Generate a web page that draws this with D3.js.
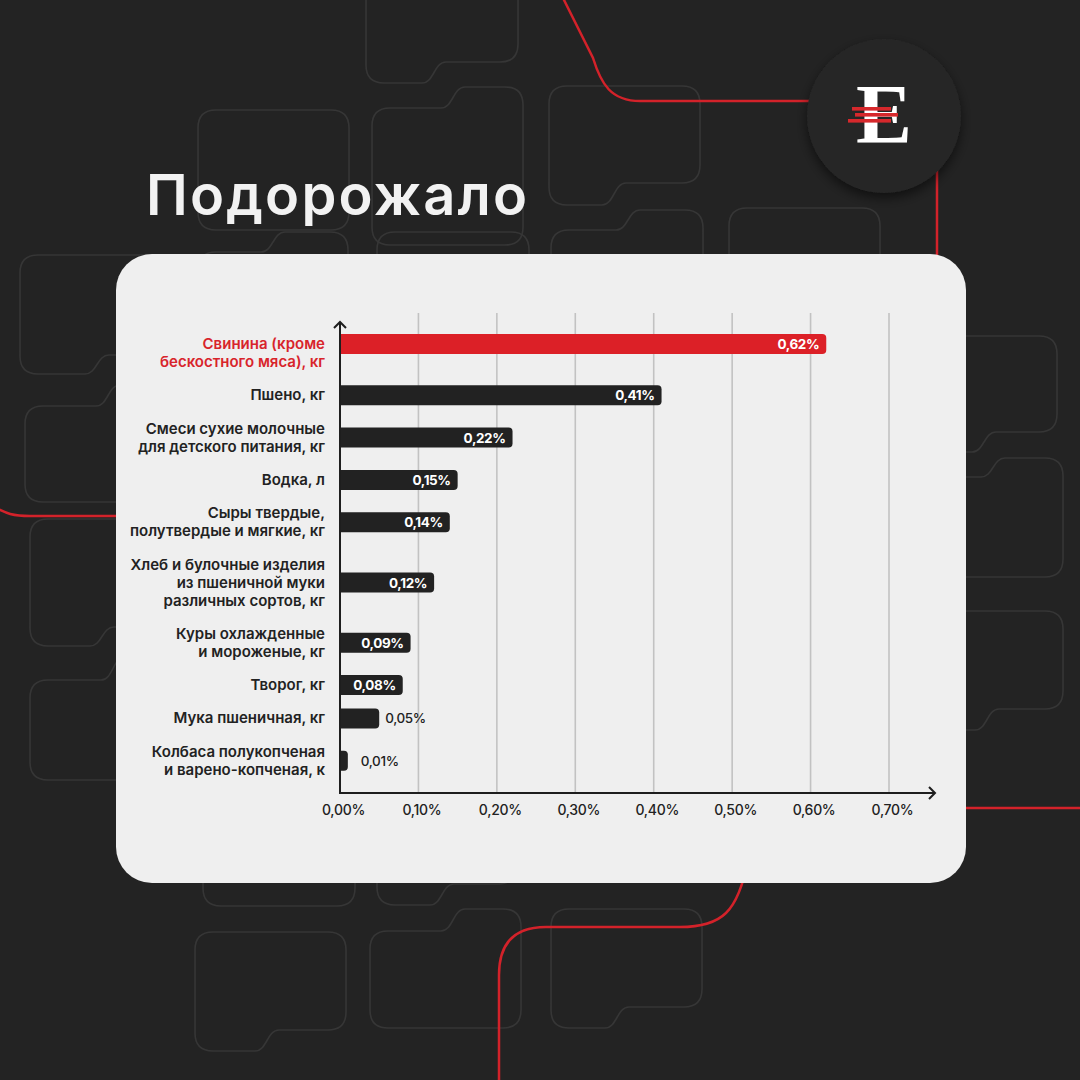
<!DOCTYPE html>
<html>
<head>
<meta charset="utf-8">
<script src="https://cdn.jsdelivr.net/npm/d3@7"></script>
<style>
    html, body { margin: 0; padding: 0; background: #232323; }
    svg { display: block; }
</style>
</head>
<body>
<script>
(function(){

    //chart data
    var categories = [
        "Свинина (кроме\nбескостного мяса), кг",
        "Пшено, кг",
        "Смеси сухие молочные\nдля детского питания, кг",
        "Водка, л",
        "Сыры твердые,\nполутвердые и мягкие, кг",
        "Хлеб и булочные изделия\nиз пшеничной муки\nразличных сортов, кг",
        "Куры охлажденные\nи мороженые, кг",
        "Творог, кг",
        "Мука пшеничная, кг",
        "Колбаса полукопченая\nи варено-копченая, к"
    ];
    var values = [0.62, 0.41, 0.22, 0.15, 0.14, 0.12, 0.09, 0.08, 0.05, 0.01]; //percent
    var tickValues = [0, 0.1, 0.2, 0.3, 0.4, 0.5, 0.6, 0.7];
    var highlight = 0; //index of red bar
    var title = "Подорожало";

window.onload = draw;

function draw(){
    var width = 1080,
        height = 1080;

    var svg = d3.select("body")
        .append("svg")
        .attr("width", width)
        .attr("height", height);

    var defs = svg.append("defs");
    var shadow = defs.append("filter")
        .attr("id", "shadow")
        .attr("x", "-30%").attr("y", "-30%")
        .attr("width", "160%").attr("height", "160%");
    shadow.append("feDropShadow")
        .attr("dx", 0).attr("dy", 5)
        .attr("stdDeviation", 6)
        .attr("flood-color", "#000")
        .attr("flood-opacity", 0.55);

    //background
    svg.append("rect")
        .attr("width", width)
        .attr("height", height)
        .attr("fill", "#232323");

    drawBackdrop(svg);

    //title
    svg.append("text")
        .attr("x", 146)
        .attr("y", 215)
        .attr("fill", "#f2f2f2")
        .style("font-family", "Inter, 'Noto Sans', sans-serif")
        .style("font-weight", 600)
        .style("font-size", "56px")
        .style("letter-spacing", "2.2px")
        .text(title);

    //logo
    var logo = svg.append("g");
    logo.append("circle")
        .attr("cx", 884).attr("cy", 116).attr("r", 77)
        .attr("fill", "#262626")
        .attr("filter", "url(#shadow)");
    logo.append("text")
        .attr("x", 884).attr("y", 143)
        .attr("text-anchor", "middle")
        .attr("fill", "#ffffff")
        .style("font-family", "'Liberation Serif', serif")
        .style("font-weight", 700)
        .style("font-size", "84px")
        .text("E");
    [[852, 107, 39], [855, 113, 43], [848, 119, 43]].forEach(function(s){
        logo.append("rect")
            .attr("x", s[0]).attr("y", s[1])
            .attr("width", s[2]).attr("height", 3.6)
            .attr("fill", "#d6282c");
    });

    //card
    svg.append("rect")
        .attr("x", 116).attr("y", 254)
        .attr("width", 850).attr("height", 629)
        .attr("rx", 36)
        .attr("fill", "#efefef");

    setChart(svg);
};

//decorative outlines and red lines behind the card
function drawBackdrop(svg){
    //[x0, y0, x1, y1, kind, xt, tabDepth]
    var shapes = [
        [366, -30, 518, 62, "bl", 432, 21],
        [198, 110, 349, 230, "r"],
        [372, 108, 523, 245, "tr", 455, 21],
        [549, 86, 700, 183, "bl", 612, 22],
        [551, 230, 703, 330, "tr", 630, 20],
        [729, 208, 880, 330, "r"],
        [198, 252, 348, 360, "tr", 275, 20],
        [377, 232, 529, 340, "r"],
        [20, 255, 170, 355, "bl", 95, 19],
        [25, 406, 175, 502, "tr", 110, 21],
        [30, 519, 180, 627, "bl", 100, 19],
        [30, 680, 180, 780, "tr", 115, 23],
        [905, 336, 1057, 432, "bl", 982, 20],
        [905, 477, 1063, 577, "tr", 995, 19],
        [905, 611, 1063, 709, "bl", 985, 21],
        [203, 790, 355, 906, "r"],
        [377, 790, 516, 884, "bl", 440, 21],
        [195, 932, 346, 1030, "bl", 265, 21],
        [370, 931, 521, 1028, "tr", 455, 22],
        [551, 909, 702, 1007, "bl", 615, 21]
    ];

    svg.append("g")
        .selectAll("path")
        .data(shapes)
        .enter()
        .append("path")
        .attr("d", shapePath)
        .attr("fill", "none")
        .attr("stroke", "#363636")
        .attr("stroke-width", 1.6);

    var red = [
        "M563,-2 L593,58 C601,84 611,101 640,101 L812,101",
        "M937,170 L937,780 Q937,808 965,808 L1082,808",
        "M-2,509 C6,513 12,516 30,516 L130,516",
        "M748,860 C738,912 722,927 680,927 L546,927 Q499,927 499,975 L499,1082"
    ];
    svg.append("g")
        .selectAll("path")
        .data(red)
        .enter()
        .append("path")
        .attr("d", function(d){ return d; })
        .attr("fill", "none")
        .attr("stroke", "#d3222a")
        .attr("stroke-width", 2.5);
};

function shapePath(s){
    var x0 = s[0], y0 = s[1], x1 = s[2], y1 = s[3], r = 18;
    var p = d3.path();
    if (s[4] === "r"){
        p.moveTo(x0, y0 + r);
        p.quadraticCurveTo(x0, y0, x0 + r, y0);
        p.lineTo(x1 - r, y0);
        p.quadraticCurveTo(x1, y0, x1, y0 + r);
        p.lineTo(x1, y1 - r);
        p.quadraticCurveTo(x1, y1, x1 - r, y1);
        p.lineTo(x0 + r, y1);
        p.quadraticCurveTo(x0, y1, x0, y1 - r);
        p.closePath();
    } else if (s[4] === "bl"){
        var xt = s[5], d = s[6];
        p.moveTo(x0, y0 + r);
        p.quadraticCurveTo(x0, y0, x0 + r, y0);
        p.lineTo(x1 - r, y0);
        p.quadraticCurveTo(x1, y0, x1, y0 + r);
        p.lineTo(x1, y1 - r);
        p.quadraticCurveTo(x1, y1, x1 - r, y1);
        p.lineTo(xt + 14, y1);
        p.bezierCurveTo(xt + 2, y1, xt + 2, y1 + d, xt - 10, y1 + d);
        p.lineTo(x0 + r, y1 + d);
        p.quadraticCurveTo(x0, y1 + d, x0, y1 + d - r);
        p.closePath();
    } else {
        var xt2 = s[5], d2 = s[6];
        p.moveTo(x0, y0 + r);
        p.quadraticCurveTo(x0, y0, x0 + r, y0);
        p.lineTo(xt2 - 14, y0);
        p.bezierCurveTo(xt2 - 2, y0, xt2 - 2, y0 - d2, xt2 + 10, y0 - d2);
        p.lineTo(x1 - r, y0 - d2);
        p.quadraticCurveTo(x1, y0 - d2, x1, y0 - d2 + r);
        p.lineTo(x1, y1 - r);
        p.quadraticCurveTo(x1, y1, x1 - r, y1);
        p.lineTo(x0 + r, y1);
        p.quadraticCurveTo(x0, y1, x0, y1 - r);
        p.closePath();
    }
    return p.toString();
};

//horizontal bar chart inside the card
function setChart(svg){
    var x0 = 340,
        axisY = 793,
        lineH = 18,
        gap = 15.3,
        barH = 20;

    var x = d3.scaleLinear()
        .domain([0, 0.7])
        .range([x0, 889]);

    //label rows: stack by number of text lines
    var rows = categories.map(function(c){ return c.split("\n"); });
    var centers = [];
    var cy = 353;
    rows.forEach(function(lines, i){
        if (i > 0) cy += (rows[i - 1].length + lines.length) / 2 * lineH + gap;
        centers.push(cy);
    });

    var font = "Inter, 'Noto Sans', sans-serif";
    var chart = svg.append("g");

    //grid lines
    chart.append("g")
        .selectAll("line")
        .data(tickValues.slice(1))
        .enter()
        .append("line")
        .attr("x1", function(d){ return x(d); })
        .attr("x2", function(d){ return x(d); })
        .attr("y1", 313)
        .attr("y2", axisY)
        .attr("stroke", "#c2c2c2")
        .attr("stroke-width", 1.6);

    //x axis tick labels
    var xAxis = d3.axisBottom(x)
        .tickValues(tickValues)
        .tickSize(0)
        .tickPadding(12)
        .tickFormat(function(d){ return d.toFixed(2).replace(".", ",") + "%"; });

    var axisG = chart.append("g")
        .attr("transform", "translate(3," + axisY + ")")
        .call(xAxis);
    axisG.select(".domain").remove();
    axisG.selectAll("text")
        .attr("fill", "#222")
        .style("font-family", font)
        .style("font-weight", 500)
        .style("font-size", "14px")
        .style("letter-spacing", "-0.3px");

    //bars
    var barY = function(d, i){
        var c = centers[i];
        if (i === highlight && rows[i].length > 1) c = c - (rows[i].length - 1) * lineH / 2;
        return c;
    };

    chart.append("g")
        .selectAll("path")
        .data(values)
        .enter()
        .append("path")
        .attr("d", function(d, i){
            var yc = barY(d, i),
                w = x(d) - x0,
                r = Math.min(4, w / 2),
                top = yc - barH / 2,
                p = d3.path();
            p.moveTo(x0, top);
            p.lineTo(x0 + w - r, top);
            p.quadraticCurveTo(x0 + w, top, x0 + w, top + r);
            p.lineTo(x0 + w, top + barH - r);
            p.quadraticCurveTo(x0 + w, top + barH, x0 + w - r, top + barH);
            p.lineTo(x0, top + barH);
            p.closePath();
            return p.toString();
        })
        .attr("fill", function(d, i){ return i === highlight ? "#dc2027" : "#222222"; });

    //value labels
    chart.append("g")
        .selectAll("text")
        .data(values)
        .enter()
        .append("text")
        .attr("x", function(d){ return d > 0.06 ? x(d) - 7 : x(d) + (d < 0.03 ? 13 : 6); })
        .attr("y", function(d, i){ return barY(d, i) + 5; })
        .attr("text-anchor", function(d){ return d > 0.06 ? "end" : "start"; })
        .attr("fill", function(d){ return d > 0.06 ? "#ffffff" : "#222"; })
        .style("font-family", font)
        .style("font-weight", function(d){ return d > 0.06 ? 700 : 500; })
        .style("font-size", "13.5px")
        .style("letter-spacing", "-0.4px")
        .text(function(d){ return d.toFixed(2).replace(".", ",") + "%"; });

    //category labels
    var labels = chart.append("g")
        .selectAll("text")
        .data(rows)
        .enter()
        .append("text")
        .attr("text-anchor", "end")
        .attr("fill", function(d, i){ return i === highlight ? "#d8242b" : "#222"; })
        .style("font-family", font)
        .style("font-weight", 600)
        .style("font-size", "15px")
        .style("letter-spacing", "0px");

    labels.each(function(lines, i){
        var first = centers[i] - (lines.length - 1) * lineH / 2 + 5;
        d3.select(this).selectAll("tspan")
            .data(lines)
            .enter()
            .append("tspan")
            .attr("x", 325)
            .attr("y", function(d, j){ return first + j * lineH; })
            .text(function(d){ return d; });
    });

    //axes with arrow heads
    var ax = chart.append("g")
        .attr("fill", "none")
        .attr("stroke", "#1e1e1e")
        .attr("stroke-width", 2);
    ax.append("line")
        .attr("x1", x0).attr("x2", x0)
        .attr("y1", 322).attr("y2", axisY + 1);
    ax.append("line")
        .attr("x1", x0 - 1).attr("x2", 935)
        .attr("y1", axisY).attr("y2", axisY);
    ax.append("path").attr("d", "M" + (x0 - 6) + ",328 L" + x0 + ",322 L" + (x0 + 6) + ",328");
    ax.append("path").attr("d", "M929,787 L935,793 L929,799");
};

})();
</script>
</body>
</html>
